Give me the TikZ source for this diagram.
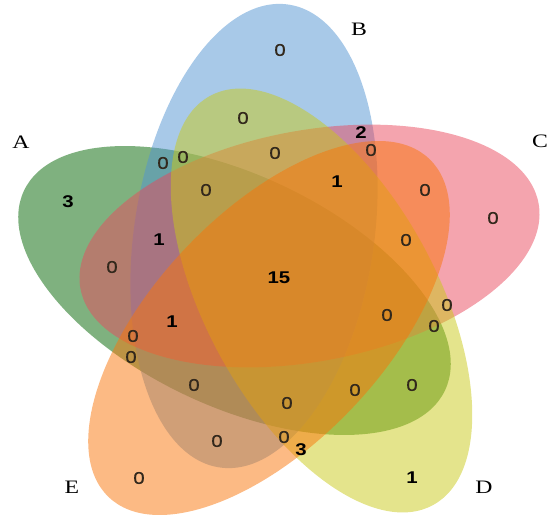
\documentclass[tikz,border=0pt]{standalone}
\usepackage{fontspec}
\setmainfont{Liberation Sans}
\newfontfamily\lblfont[FakeStretch=1.25]{Liberation Serif}
\newfontfamily\numfont[FakeStretch=1.2]{Liberation Sans}
\newfontfamily\zerofont[FakeStretch=1.2,FakeBold=0.6]{Liberation Sans}
\definecolor{setA}{RGB}{0,100,0}
\definecolor{setB}{RGB}{81,147,209}
\definecolor{setC}{RGB}{233,73,93}
\definecolor{setD}{RGB}{201,201,25}
\definecolor{setE}{RGB}{249,117,9}
\definecolor{zerocol}{RGB}{50,40,28}
\begin{document}
\begin{tikzpicture}[x=1pt,y=-1pt,
  setfill/.style={fill=#1, fill opacity=0.5},
  zero/.style={font=\zerofont\fontsize{17}{20}\selectfont, text=zerocol, inner sep=0pt},
  num/.style={font=\numfont\bfseries\fontsize{17}{20}\selectfont, text=black, inner sep=0pt},
  setlabel/.style={font=\lblfont\fontsize{19}{22}\selectfont, text=black, inner sep=0pt}]
\useasboundingbox (0,0) rectangle (552,519);
% ellipses
\fill[setfill=setA, shift={(234.5,290.5)}, rotate=-25.4] (0,0) ellipse [x radius=233, y radius=115.5];
\fill[setfill=setB, shift={(254,236)}, rotate=81.5] (0,0) ellipse [x radius=234, y radius=120];
\fill[setfill=setC, shift={(309.5,246)}, rotate=10.6] (0,0) ellipse [x radius=233, y radius=115.5];
\fill[setfill=setD, shift={(321.5,300.5)}, rotate=-61.4] (0,0) ellipse [x radius=233, y radius=115.5];
\fill[setfill=setE, shift={(269,328)}, rotate=46.6] (0,0) ellipse [x radius=233, y radius=115.5];
% set labels
\node[setlabel] (lA) at (21,142) {A};
\node[setlabel] (lB) at (359,29) {B};
\node[setlabel] (lC) at (540,141) {C};
\node[setlabel] (lD) at (484,487) {D};
\node[setlabel] (lE) at (72,487) {E};
% counts
\node[num]  (n1)  at (68,202) {3};
\node[zero] (n2)  at (280,50) {0};
\node[zero] (n3)  at (493,218) {0};
\node[num]  (n4)  at (412,478) {1};
\node[zero] (n5)  at (139,478) {0};
\node[zero] (n6)  at (243,118) {0};
\node[zero] (n7)  at (163,163) {0};
\node[zero] (n8)  at (183,157) {0};
\node[zero] (n9)  at (275,153) {0};
\node[zero] (n10) at (206,190) {0};
\node[num]  (n11) at (159,240) {1};
\node[num]  (n12) at (361,133) {2};
\node[zero] (n13) at (371,150) {0};
\node[num]  (n14) at (337,182) {1};
\node[zero] (n15) at (425,190) {0};
\node[zero] (n16) at (406,240) {0};
\node[zero] (n17) at (112,267) {0};
\node[num]  (n18) at (172,322) {1};
\node[zero] (n19) at (133,336) {0};
\node[zero] (n20) at (131,357) {0};
\node[zero] (n21) at (194,385) {0};
\node[zero] (n22) at (217,441) {0};
\node[num]  (n23) at (279,278) {15};
\node[zero] (n24) at (387,315) {0};
\node[zero] (n25) at (447,305) {0};
\node[zero] (n26) at (434,326) {0};
\node[zero] (n27) at (412,385) {0};
\node[zero] (n28) at (355,390) {0};
\node[zero] (n29) at (287,403) {0};
\node[zero] (n30) at (284,437) {0};
\node[num]  (n31) at (301,450) {3};
\end{tikzpicture}
\end{document}
